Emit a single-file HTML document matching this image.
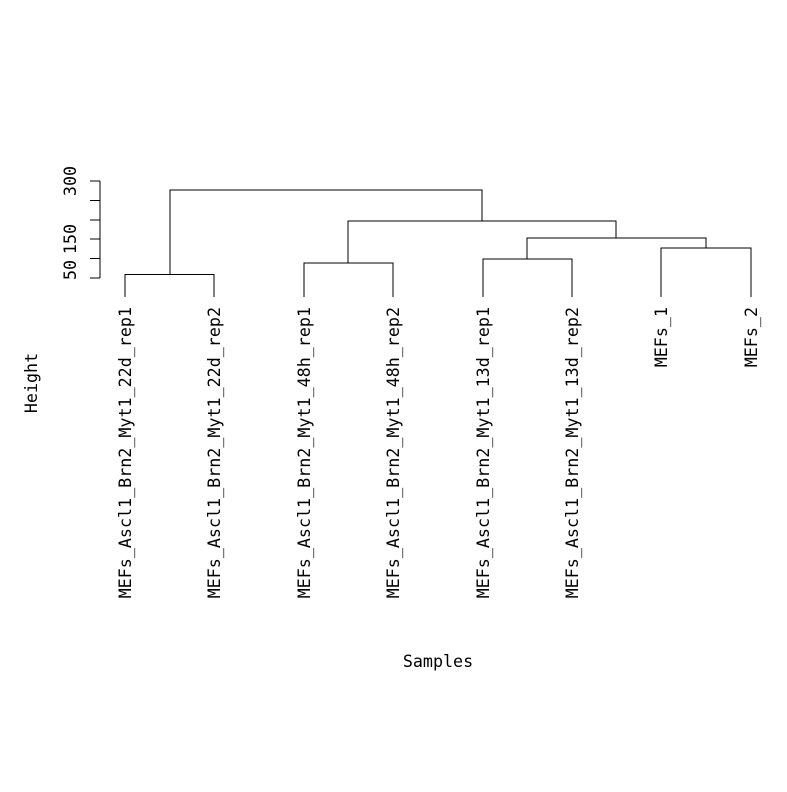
<!DOCTYPE html>
<html><head><meta charset="utf-8"><style>body{margin:0;background:#fff}</style></head>
<body>
<svg width="787" height="787" xmlns="http://www.w3.org/2000/svg" font-family="DejaVu Sans Mono, Liberation Mono, monospace" font-size="16.7">
<rect width="787" height="787" fill="#fff"/>
<g stroke="#000" stroke-width="1" fill="none" shape-rendering="crispEdges">
<line x1="100" y1="181" x2="100" y2="278"/>
<line x1="90" y1="181" x2="100" y2="181"/>
<line x1="90" y1="200.5" x2="100" y2="200.5"/>
<line x1="90" y1="220" x2="100" y2="220"/>
<line x1="90" y1="239" x2="100" y2="239"/>
<line x1="90" y1="258.5" x2="100" y2="258.5"/>
<line x1="90" y1="278" x2="100" y2="278"/>
<polyline points="125,297 125,274.5 214,274.5 214,297"/>
<polyline points="304,297 304,263 393,263 393,297"/>
<polyline points="483,297 483,259 572,259 572,297"/>
<polyline points="661,297 661,248 751,248 751,297"/>
<polyline points="527,259 527,238 706,238 706,248"/>
<polyline points="348,263 348,221 616,221 616,238"/>
<polyline points="170,274.5 170,190 482,190 482,221"/>
</g>
<g fill="#000">
<text transform="translate(76,270) rotate(-90)" text-anchor="middle">50</text>
<text transform="translate(76,239) rotate(-90)" text-anchor="middle">150</text>
<text transform="translate(76,181) rotate(-90)" text-anchor="middle">300</text>
<text transform="translate(37,383) rotate(-90)" text-anchor="middle">Height</text>
<text x="438" y="667" text-anchor="middle">Samples</text>
<text transform="translate(131,307) rotate(-90)" text-anchor="end">MEFs_Ascl1_Brn2_Myt1_22d_rep1</text>
<text transform="translate(220,307) rotate(-90)" text-anchor="end">MEFs_Ascl1_Brn2_Myt1_22d_rep2</text>
<text transform="translate(310,307) rotate(-90)" text-anchor="end">MEFs_Ascl1_Brn2_Myt1_48h_rep1</text>
<text transform="translate(399,307) rotate(-90)" text-anchor="end">MEFs_Ascl1_Brn2_Myt1_48h_rep2</text>
<text transform="translate(489,307) rotate(-90)" text-anchor="end">MEFs_Ascl1_Brn2_Myt1_13d_rep1</text>
<text transform="translate(578,307) rotate(-90)" text-anchor="end">MEFs_Ascl1_Brn2_Myt1_13d_rep2</text>
<text transform="translate(667,307) rotate(-90)" text-anchor="end">MEFs_1</text>
<text transform="translate(757,307) rotate(-90)" text-anchor="end">MEFs_2</text>
</g>
</svg>
</body></html>
